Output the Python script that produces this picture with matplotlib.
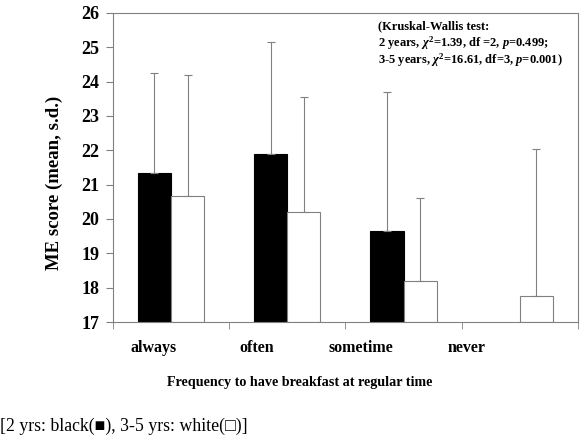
import numpy as np
import matplotlib
matplotlib.use('Agg')
import matplotlib.pyplot as plt

# Data
categories = ['always', 'often', 'sometime', 'never']
mean_2yrs = [21.33, 21.9, 19.65, np.nan]
upper_2yrs = [24.25, 25.15, 23.7, np.nan]
mean_35yrs = [20.67, 20.2, 18.2, 17.75]
upper_35yrs = [24.2, 23.55, 20.6, 22.05]
y_ticks = [17, 18, 19, 20, 21, 22, 23, 24, 25, 26]

# category labels sit a bit left of the bar groups in the original
label_pos = [-0.148, 0.736, 1.637, 2.539]

stats_lines = [
    '(Kruskal-Wallis test:',
    r'2 years, $\chi^2$=1.39, df =2, $p$=0.499;',
    r'3-5 years, $\chi^2$=16.61, df=3, $p$=0.001)',
]

plt.rcParams['font.family'] = ['Liberation Serif', 'DejaVu Serif']
plt.rcParams['mathtext.fontset'] = 'custom'
plt.rcParams['mathtext.rm'] = 'Liberation Serif:bold'
plt.rcParams['mathtext.it'] = 'Liberation Serif:italic:bold'

grey = '#808080'

fig = plt.figure(figsize=(5.82, 4.43), dpi=100)
ax = fig.add_axes([0.194, 0.273, 0.799, 0.698])

x = np.arange(len(categories))
w = 0.285

# error bars: only the upper half (s.d.)
m2 = np.array(mean_2yrs)
m3 = np.array(mean_35yrs)
e2 = np.array(upper_2yrs) - m2
e3 = np.array(upper_35yrs) - m3

ax.bar(x - w / 2, m2 - 17, w, bottom=17, color='black', edgecolor='black', linewidth=0.8)
ax.bar(x + w / 2, m3 - 17, w, bottom=17, color='white', edgecolor=grey, linewidth=0.8)
ax.errorbar(x - w / 2, m2, yerr=[np.zeros(4), e2], fmt='none', ecolor=grey,
            elinewidth=0.8, capsize=2.8, capthick=0.8)
ax.errorbar(x + w / 2, m3, yerr=[np.zeros(4), e3], fmt='none', ecolor=grey,
            elinewidth=0.8, capsize=2.8, capthick=0.8)

ax.set_xlim(-0.5, 3.5)
ax.set_ylim(17, 26)
ax.set_yticks(y_ticks)
ax.set_yticklabels([str(t) for t in y_ticks], fontsize=13, fontweight='bold')

ax.set_xticks(label_pos)
ax.set_xticklabels(categories, fontsize=11.5, fontweight='bold')
ax.tick_params(axis='x', which='major', length=0, pad=13)
ax.set_xticks([-0.5, 0.5, 1.5, 2.5, 3.5], minor=True)
ax.tick_params(axis='x', which='minor', length=5, color=grey, direction='out')
ax.tick_params(axis='y', length=5, color=grey, direction='out', pad=5)

for s in ax.spines.values():
    s.set_color(grey)
    s.set_linewidth(0.8)

ax.set_ylabel('ME score (mean, s.d.)', fontsize=13.5, fontweight='bold')
ax.yaxis.set_label_coords(-0.108, 0.45)
ax.set_xlabel('Frequency to have breakfast at regular time', fontsize=10.2,
              fontweight='bold', va='center')
ax.xaxis.set_label_coords(0.402, -0.197)

# stats box, one line at a time to keep the spacing even
for i, line in enumerate(stats_lines):
    ax.text(0.57, 0.958 - i * 0.055, line, transform=ax.transAxes,
            fontsize=9.0, fontweight='bold', va='center', ha='left')

fig.text(0.0, 0.038, '[2 yrs: black(\u25a0), 3-5 yrs: white(\u25a1)]', fontsize=12.8,
         ha='left', va='center')

fig.savefig('out.png', dpi=100)
